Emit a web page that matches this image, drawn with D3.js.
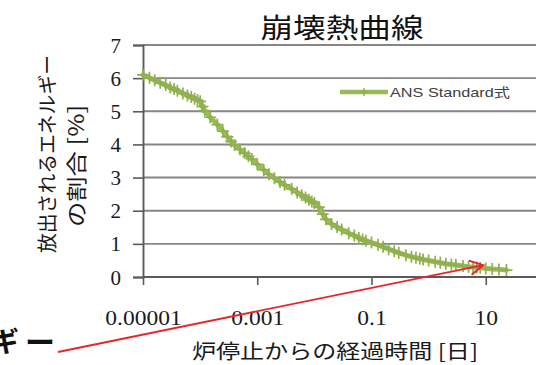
<!DOCTYPE html>
<html>
<head>
<meta charset="utf-8">
<script src="https://cdn.jsdelivr.net/npm/d3@7"></script>
<style>
  html, body { margin: 0; padding: 0; background: #fff; overflow: hidden; }
  svg { display: block; }
</style>
</head>
<body>
<svg id="chart" width="536" height="365"></svg>
<script>
// Decay heat curve (ANS Standard): time after shutdown [days] vs. share of released energy [%]
const days = [
  1e-5, 1.3e-5, 1.6e-5, 2e-5, 2.5e-5, 3e-5, 3.5e-5, 4e-5, 5e-5, 6e-5, 7e-5, 8e-5, 9e-5, 1e-4,
  1.1e-4, 1.2e-4, 1.5e-4, 2e-4, 2.5e-4, 3e-4, 3.5e-4, 4e-4, 5e-4, 6e-4, 7e-4, 8e-4,
  1e-3, 1.3e-3, 1.6e-3, 2e-3, 2.5e-3, 3e-3, 4e-3, 5e-3, 6e-3, 7e-3, 8e-3, 9e-3, 1e-2, 1.2e-2,
  1.4e-2, 1.6e-2, 2e-2, 2.5e-2, 3e-2, 4e-2, 5e-2, 6e-2, 7e-2, 8e-2,
  0.1, 0.13, 0.16, 0.2, 0.25, 0.3, 0.4, 0.5, 0.6, 0.7, 0.8,
  1, 1.3, 1.6, 2, 2.5, 3, 4, 5, 6, 7, 8, 10, 13, 17, 23
];
const percent = [
  6.10, 6.01, 5.94, 5.86, 5.79, 5.72, 5.67, 5.62, 5.54, 5.48, 5.43, 5.38, 5.34, 5.30,
  5.14, 5.02, 4.82, 4.60, 4.40, 4.23, 4.09, 3.98, 3.85, 3.74, 3.64, 3.56,
  3.40, 3.23, 3.10, 2.98, 2.87, 2.78, 2.66, 2.55, 2.47, 2.40, 2.33, 2.28, 2.23, 2.11,
  1.90, 1.74, 1.60, 1.51, 1.43, 1.32, 1.25, 1.18, 1.13, 1.09,
  1.04, 0.97, 0.91, 0.84, 0.78, 0.73, 0.66, 0.61, 0.58, 0.55, 0.53,
  0.50, 0.46, 0.43, 0.40, 0.38, 0.36, 0.33, 0.31, 0.30, 0.29, 0.28, 0.26, 0.24, 0.23, 0.21
];
const yTickValues = [0, 1, 2, 3, 4, 5, 6, 7];
const xTickValues = [1e-5, 1e-3, 0.1, 10];
const xTickLabels = ["0.00001", "0.001", "0.1", "10"];
const seriesName = "ANS Standard式";
const chartTitle = "崩壊熱曲線";
const xTitle = "炉停止からの経過時間 [日]";
const yTitleLines = ["放出されるエネルギー", "の割合 [%]"];
const arrowTip = { t: 9, p: 0.36 };

const svg = d3.select("#chart");
const green = "#9bbb59";
const markGreen = "#8fb04d";
const cjk = "'Noto Sans CJK JP', 'Noto Sans', sans-serif";
const serif = "'Liberation Serif', 'DejaVu Serif', serif";

const plot = { left: 143, top: 45, bottom: 277, right: 600 };
const x = d3.scaleLog().domain([1e-5, 1000]).range([plot.left, plot.right]);
const y = d3.scaleLinear().domain([0, 7]).range([plot.bottom, plot.top]);

// horizontal gridlines
svg.append("g")
  .selectAll("line")
  .data(yTickValues.filter(v => v > 0))
  .join("line")
  .attr("x1", plot.left).attr("x2", plot.right)
  .attr("y1", d => y(d)).attr("y2", d => y(d))
  .attr("stroke", "#868686").attr("stroke-width", 1.9);

// y axis
const yAxis = svg.append("g")
  .attr("transform", `translate(${plot.left},0)`)
  .call(d3.axisLeft(y).tickValues(yTickValues).tickSize(10).tickPadding(12).tickFormat(d3.format("d")));
yAxis.select(".domain").attr("stroke", "#5a5a5a").attr("stroke-width", 1.9);
yAxis.selectAll(".tick line").attr("stroke", "#5a5a5a").attr("stroke-width", 1.6);
yAxis.selectAll(".tick text")
  .attr("font-family", serif).attr("font-size", 21).attr("fill", "#1a1a1a").attr("dy", "0.34em");

// x axis (log)
const xAxis = svg.append("g")
  .attr("transform", `translate(0,${plot.bottom})`)
  .call(d3.axisBottom(x).tickValues(xTickValues).tickSize(8).tickPadding(36)
    .tickFormat((d, i) => xTickLabels[i]));
xAxis.select(".domain").attr("stroke", "#5a5a5a").attr("stroke-width", 1.9)
  .attr("d", `M${plot.left},0H${plot.right}`);
xAxis.selectAll(".tick line").attr("stroke", "#5a5a5a").attr("stroke-width", 1.6);
xAxis.selectAll(".tick text")
  .attr("font-family", serif).attr("font-size", 22).attr("fill", "#1a1a1a").attr("dy", "0.2em")
  .each(function () {
    const n = this.getComputedTextLength();
    d3.select(this).attr("textLength", n * 1.07).attr("lengthAdjust", "spacingAndGlyphs");
  });

// series line
const pts = days.map((t, i) => ({ t, p: percent[i] }));
svg.append("path")
  .datum(pts)
  .attr("fill", "none")
  .attr("stroke", green)
  .attr("stroke-width", 5)
  .attr("stroke-linejoin", "round")
  .attr("stroke-linecap", "round")
  .attr("d", d3.line().x(d => x(d.t)).y(d => y(d.p)));

// plus markers
const plus = (cx, cy, r) => `M${cx - r},${cy}H${cx + r}M${cx},${cy - r}V${cy + r}`;
svg.append("g")
  .selectAll("path")
  .data(pts)
  .join("path")
  .attr("d", d => plus(x(d.t), y(d.p), 6))
  .attr("stroke", markGreen)
  .attr("stroke-width", 1.7)
  .attr("fill", "none");

// legend
const lg = svg.append("g").attr("transform", "translate(340,92)");
lg.append("line").attr("x1", 0).attr("x2", 48).attr("y1", 0).attr("y2", 0)
  .attr("stroke", green).attr("stroke-width", 4.5);
lg.append("path").attr("d", plus(24, 0, 4)).attr("stroke", markGreen).attr("stroke-width", 1.4);
lg.append("text").attr("x", 50).attr("y", 5)
  .attr("font-family", "'Liberation Sans', 'Noto Sans CJK JP', sans-serif")
  .attr("font-size", 13).attr("fill", "#404040")
  .attr("textLength", 120).attr("lengthAdjust", "spacingAndGlyphs")
  .text(seriesName);

// title
svg.append("text")
  .attr("x", 342).attr("y", 38)
  .attr("text-anchor", "middle")
  .attr("font-family", cjk).attr("font-size", 27).attr("fill", "#111")
  .attr("textLength", 163).attr("lengthAdjust", "spacingAndGlyphs")
  .text(chartTitle);

// x axis title
svg.append("text")
  .attr("x", 335).attr("y", 359)
  .attr("text-anchor", "middle")
  .attr("font-family", cjk).attr("font-size", 20).attr("fill", "#1a1a1a")
  .attr("textLength", 286).attr("lengthAdjust", "spacingAndGlyphs")
  .text(xTitle);

// y axis title (two rotated lines)
const yTitlePos = [{ cx: 55, cy: 154, len: 198, fs: 20 }, { cx: 84, cy: 166, len: 122, fs: 21 }];
yTitleLines.forEach((s, i) => {
  const p = yTitlePos[i];
  svg.append("text")
    .attr("transform", `translate(${p.cx},${p.cy}) rotate(-90)`)
    .attr("text-anchor", "middle")
    .attr("font-family", cjk).attr("font-size", p.fs).attr("fill", "#1a1a1a")
    .attr("textLength", p.len).attr("lengthAdjust", "spacingAndGlyphs")
    .text(s);
});

// caption fragment at the lower left edge
svg.append("text")
  .attr("x", 19).attr("y", 352)
  .attr("text-anchor", "end")
  .attr("font-family", cjk).attr("font-size", 28).attr("font-weight", 700).attr("fill", "#111")
  .text("ギ");
svg.append("text")
  .attr("x", 55).attr("y", 353)
  .attr("text-anchor", "end")
  .attr("font-family", cjk).attr("font-size", 30).attr("font-weight", 700).attr("fill", "#111")
  .text("ー");

// red pointer arrow
const tip = [x(arrowTip.t), y(arrowTip.p)];
const tail = [58, 352];
const ang = Math.atan2(tip[1] - tail[1], tip[0] - tail[0]);
const head = 15, spread = 0.5;
const red = "#e8262a";
svg.append("line")
  .attr("x1", tail[0]).attr("y1", tail[1]).attr("x2", tip[0]).attr("y2", tip[1])
  .attr("stroke", red).attr("stroke-width", 1.8);
svg.append("path")
  .attr("d", `M${tip[0] - head * Math.cos(ang - spread)},${tip[1] - head * Math.sin(ang - spread)}` +
             `L${tip[0]},${tip[1]}` +
             `L${tip[0] - head * Math.cos(ang + spread)},${tip[1] - head * Math.sin(ang + spread)}`)
  .attr("fill", "none").attr("stroke", red).attr("stroke-width", 2).attr("stroke-linejoin", "miter");
</script>
</body>
</html>
